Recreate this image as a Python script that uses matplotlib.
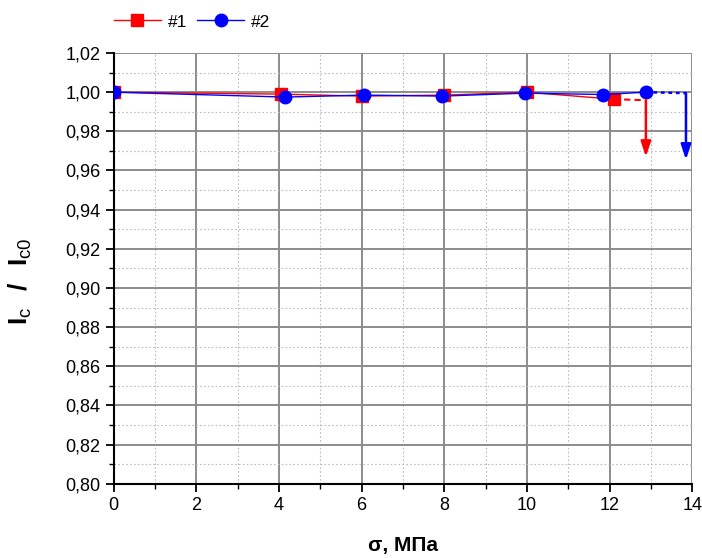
import matplotlib
matplotlib.use("Agg")
import matplotlib.pyplot as plt
from matplotlib.ticker import MultipleLocator, FuncFormatter

plt.rcParams["font.family"] = ["Liberation Sans", "DejaVu Sans"]
plt.rcParams["mathtext.fontset"] = "custom"
plt.rcParams["mathtext.rm"] = "Liberation Sans"
plt.rcParams["mathtext.bf"] = "Liberation Sans:bold"

# ---------- data ----------
x1 = [0, 4.05, 6.0, 8.0, 10.0, 12.1]
y1 = [1.0, 0.999, 0.998, 0.9985, 1.0, 0.9964]
x2 = [0, 4.15, 6.05, 7.95, 9.95, 11.85, 12.88]
y2 = [1.0, 0.9975, 0.9985, 0.998, 0.9995, 0.9988, 1.0]

# tails: dashed continuation then arrow down
tail1_x = [12.1, 12.88]
tail1_y = [0.9964, 0.9959]
arrow1 = (12.88, 0.9959, 0.967)
tail2_x = [12.88, 13.85]
tail2_y = [1.0, 0.9995]
arrow2 = (13.85, 0.9995, 0.9655)

fig = plt.figure(figsize=(7.02, 5.58), dpi=100)
ax = fig.add_axes([0.162, 0.133, 0.824, 0.772])

# ---------- grid ----------
ax.set_xlim(0, 14)
ax.set_ylim(0.80, 1.02)
ax.xaxis.set_major_locator(MultipleLocator(2))
ax.xaxis.set_minor_locator(MultipleLocator(1))
ax.yaxis.set_major_locator(MultipleLocator(0.02))
ax.yaxis.set_minor_locator(MultipleLocator(0.01))
ax.grid(which="major", color="#8c8c8c", lw=1.4, ls="-")
ax.grid(which="minor", color="#bbbbbb", lw=0.8, ls=(0, (1.5, 2)))
ax.set_axisbelow(True)

# ---------- series ----------
ax.plot(x1, y1, color="red", lw=1.0, marker="s", ms=8, label="#1", zorder=3)
ax.plot(x2, y2, color="blue", lw=1.0, marker="o", ms=9, label="#2", zorder=4)

ax.plot(tail1_x, tail1_y, color="red", lw=1.5, ls=(0, (3, 2)), zorder=3)
ax.plot(tail2_x, tail2_y, color="blue", lw=1.8, ls=(0, (1.5, 1.5)), zorder=3)

for (ax_x, y0, y_end), c in [(arrow1, "red"), (arrow2, "blue")]:
    ax.annotate("", xy=(ax_x, y_end), xytext=(ax_x, y0),
                arrowprops=dict(arrowstyle="-|>,head_length=0.9,head_width=0.3",
                                color=c, lw=1.8, shrinkA=0, shrinkB=0),
                zorder=5)

# ---------- axes style ----------
for s in ["top", "right"]:
    ax.spines[s].set_visible(False)
for s in ["left", "bottom"]:
    ax.spines[s].set_linewidth(1.5)

ax.tick_params(which="major", direction="out", length=6, width=1.3, labelsize=13)
ax.tick_params(which="minor", direction="out", length=3.5, width=1.0)
ax.yaxis.set_major_formatter(FuncFormatter(lambda v, p: f"{v:.2f}".replace(".", ",")))

ax.set_xlabel("σ, МПа", fontsize=15, fontweight="bold", labelpad=16)
ax.set_ylabel(r"$\mathbf{I}_\mathrm{c}\ \ \mathbf{/}\ \ \mathbf{I}_\mathrm{c0}$",
              fontsize=19)
ax.yaxis.set_label_coords(-0.137, 0.47)

ax.legend(loc="center left", bbox_to_anchor=(0.0, 1.072), ncol=2, frameon=False,
          fontsize=12.5, handlelength=2.7, columnspacing=0.6, handletextpad=0.4,
          borderaxespad=0, borderpad=0)

plt.savefig("out.png", dpi=100)
plt.close()
